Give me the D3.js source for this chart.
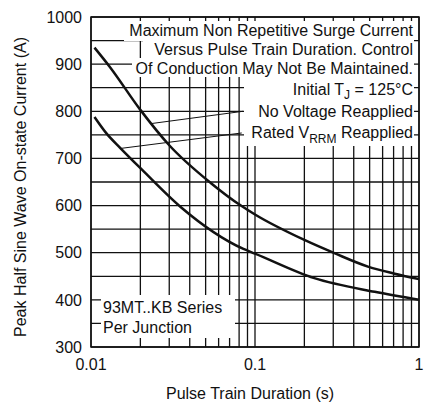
<!DOCTYPE html>
<html>
<head>
<meta charset="utf-8">
<script src="https://cdn.jsdelivr.net/npm/d3@7"></script>
<style>
  body { margin: 0; background: white; }
  text { font-family: "Liberation Sans", Arial, sans-serif; fill: #111; }
</style>
</head>
<body>
<svg id="chart"></svg>
<script>
// data
const noVoltage = [
  [0.0105, 935], [0.0131, 893], [0.02, 803], [0.03, 728], [0.0537, 648],
  [0.082, 600], [0.1, 581], [0.2, 527], [0.305, 499], [0.493, 470],
  [0.7, 456], [1.0, 444]
];
const ratedVrrm = [
  [0.0105, 788], [0.0125, 752], [0.0151, 722], [0.0206, 675], [0.0352, 597],
  [0.085, 508], [0.1, 498], [0.23, 446], [0.537, 417], [1.0, 400]
];
const xTicks = [0.01, 0.1, 1];
const yTicks = [300, 400, 500, 600, 700, 800, 900, 1000];
const leaders = [
  [[0.0846, 800], [0.0234, 774]],
  [[0.083, 754], [0.0150, 721]]
];

const W = 424, H = 406;
const m = {top: 17, right: 5, bottom: 59, left: 91};
const pw = W - m.left - m.right, ph = H - m.top - m.bottom;

const svg = d3.select('#chart')
  .attr('width', W)
  .attr('height', H);

const x = d3.scaleLog().domain([0.01, 1]).range([m.left, m.left + pw]);
const y = d3.scaleLinear().domain([300, 1000]).range([m.top + ph, m.top]);

// grid
const vGrid = d3.range(1, 10).map(d => d * 0.01).concat(d3.range(1, 11).map(d => d * 0.1));
const hGrid = d3.range(300, 1001, 50);

svg.append('g')
  .selectAll('line')
  .data(vGrid)
  .enter()
  .append('line')
  .attr('x1', d => x(d)).attr('x2', d => x(d))
  .attr('y1', m.top).attr('y2', m.top + ph)
  .attr('stroke', '#111')
  .attr('stroke-width', 1.3);

svg.append('g')
  .selectAll('line')
  .data(hGrid)
  .enter()
  .append('line')
  .attr('x1', m.left).attr('x2', m.left + pw)
  .attr('y1', d => y(d)).attr('y2', d => y(d))
  .attr('stroke', '#111')
  .attr('stroke-width', 1.3);

// white boxes behind the notes
const boxes = [
  [124, 21, 414, 41],
  [143, 41, 414, 58],
  [132, 58, 414, 77],
  [244, 77, 414, 146],
  [101, 295, 235, 338]
];
svg.append('g')
  .selectAll('rect')
  .data(boxes)
  .enter()
  .append('rect')
  .attr('x', d => d[0]).attr('y', d => d[1])
  .attr('width', d => d[2] - d[0]).attr('height', d => d[3] - d[1])
  .attr('fill', 'white');

// border
svg.append('rect')
  .attr('x', m.left).attr('y', m.top)
  .attr('width', pw).attr('height', ph)
  .attr('fill', 'none')
  .attr('stroke', '#111')
  .attr('stroke-width', 1.5);

// notes
const notes = svg.append('g')
  .attr('font-size', '16px')
  .attr('text-anchor', 'end');

notes.append('text').attr('x', 413).attr('y', 36).text('Maximum Non Repetitive Surge Current');
notes.append('text').attr('x', 413).attr('y', 55).text('Versus Pulse Train Duration. Control');
notes.append('text').attr('x', 413).attr('y', 74).text('Of Conduction May Not Be Maintained.');

var tj = notes.append('text').attr('x', 413).attr('y', 95);
tj.append('tspan').text('Initial T');
tj.append('tspan').attr('font-size', '12px').attr('dy', 4).text('J');
tj.append('tspan').attr('dy', -4).text(' = 125°C');

notes.append('text').attr('x', 413).attr('y', 117).text('No Voltage Reapplied');

var rated = notes.append('text').attr('x', 413).attr('y', 138);
rated.append('tspan').text('Rated V');
rated.append('tspan').attr('font-size', '12px').attr('dy', 5).text('RRM');
rated.append('tspan').attr('dy', -5).text(' Reapplied');

svg.append('text').attr('x', 103).attr('y', 313).attr('font-size', '16px').text('93MT..KB Series');
svg.append('text').attr('x', 103).attr('y', 333).attr('font-size', '16px').text('Per Junction');

// leader lines
svg.append('g')
  .selectAll('line')
  .data(leaders)
  .enter()
  .append('line')
  .attr('x1', d => x(d[0][0])).attr('y1', d => y(d[0][1]))
  .attr('x2', d => x(d[1][0])).attr('y2', d => y(d[1][1]))
  .attr('stroke', '#111')
  .attr('stroke-width', 1);

// curves
const line = d3.line()
  .x(d => x(d[0]))
  .y(d => y(d[1]))
  .curve(d3.curveMonotoneX);

svg.append('g')
  .selectAll('path')
  .data([noVoltage, ratedVrrm])
  .enter()
  .append('path')
  .attr('d', line)
  .attr('fill', 'none')
  .attr('stroke', '#111')
  .attr('stroke-width', 2.5);

// tick labels
svg.append('g')
  .selectAll('text')
  .data(yTicks)
  .enter()
  .append('text')
  .attr('x', m.left - 9)
  .attr('y', d => y(d))
  .attr('dy', '0.36em')
  .attr('text-anchor', 'end')
  .attr('font-size', '16px')
  .text(d => d);

svg.append('g')
  .selectAll('text')
  .data(xTicks)
  .enter()
  .append('text')
  .attr('x', d => x(d))
  .attr('y', 370)
  .attr('text-anchor', 'middle')
  .attr('font-size', '16px')
  .text(d => d);

// axis titles
svg.append('text')
  .attr('x', 250)
  .attr('y', 399)
  .attr('text-anchor', 'middle')
  .attr('font-size', '16px')
  .text('Pulse Train Duration (s)');

svg.append('text')
  .attr('transform', 'translate(26,' + 187 + ') rotate(-90)')
  .attr('text-anchor', 'middle')
  .attr('font-size', '16px')
  .text('Peak Half Sine Wave On-state Current (A)');
</script>
</body>
</html>
